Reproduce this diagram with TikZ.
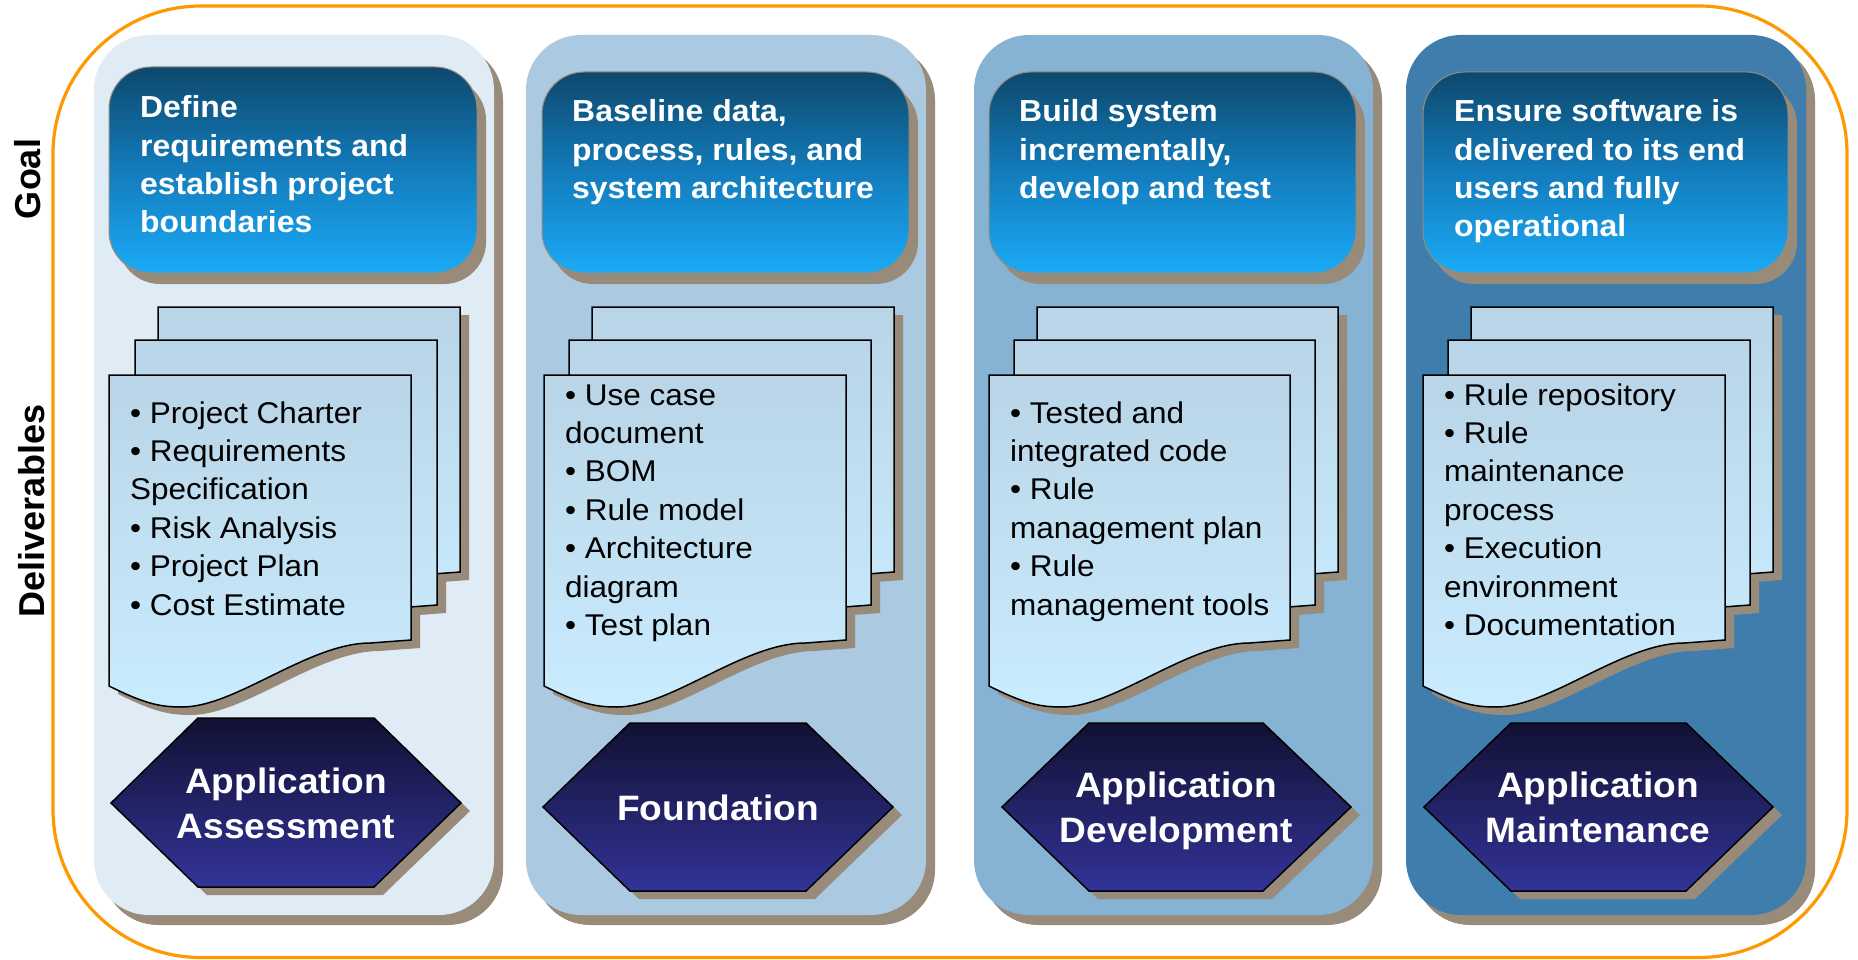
\documentclass[tikz,border=0pt]{standalone}
\usepackage{fontspec}
\setmainfont{Liberation Sans}
\newfontfamily\plainfont{Liberation Sans}
\newfontfamily\widefont[FakeStretch=1.05]{Liberation Sans}

\definecolor{framec}{RGB}{255,153,0}
\definecolor{shadowc}{RGB}{153,139,122}
\definecolor{panelA}{RGB}{224,236,245}
\definecolor{panelB}{RGB}{171,201,225}
\definecolor{panelC}{RGB}{134,178,212}
\definecolor{panelD}{RGB}{63,125,173}
\definecolor{goalTop}{RGB}{13,72,108}
\definecolor{goalMid}{RGB}{19,124,188}
\definecolor{goalBot}{RGB}{27,170,246}
\definecolor{docTop}{RGB}{185,213,231}
\definecolor{docBot}{RGB}{201,236,254}
\definecolor{hexTop}{RGB}{17,17,51}
\definecolor{hexBot}{RGB}{51,51,153}

% one sheet with a wavy lower edge: left, top, width
\newcommand\docpath[3]{(#1,#2) -- ({#1+#3},#2) -- ({#1+#3},{#2+265})
  -- ({#1+0.866*#3},{#2+268})
  .. controls ({#1+0.66*#3},{#2+268}) and ({#1+0.42*#3},{#2+332}) .. ({#1+0.242*#3},{#2+332})
  .. controls ({#1+0.17*#3},{#2+332}) and ({#1+0.12*#3},{#2+329}) .. (#1,{#2+311}) -- cycle}

% stack of three sheets: back left, middle left, front left, width
\newcommand\docstack[4]{%
  \fill[shadowc, shift={(9,8)}] \docpath{#1}{307}{#4};
  \fill[shadowc, shift={(9,8)}] \docpath{#2}{340}{#4};
  \fill[shadowc, shift={(9,8)}] \docpath{#3}{375}{#4};
  \shadedraw[sheet] \docpath{#1}{307}{#4};
  \shadedraw[sheet] \docpath{#2}{340}{#4};
  \shadedraw[sheet] \docpath{#3}{375}{#4};
}

\tikzset{
  panelbox/.style={rounded corners=55pt},
  goalbox/.style={rounded corners=42pt, top color=goalTop, bottom color=goalBot,
    middle color=goalMid, draw=shadowc, line width=1pt},
  sheet/.style={top color=docTop, bottom color=docBot, draw=black, line width=1.5pt},
  hexbox/.style={top color=hexTop, bottom color=hexBot, draw=black, line width=1.5pt},
  goaltext/.style={anchor=base west, inner sep=0pt, text=white,
    font=\widefont\bfseries\fontsize{30.4pt}{36pt}\selectfont},
  itemtext/.style={anchor=base west, inner sep=0pt, text=black,
    font=\widefont\fontsize{30pt}{36pt}\selectfont},
  phasetext/.style={anchor=base, inner sep=0pt, text=white,
    font=\widefont\bfseries\fontsize{35.3pt}{42pt}\selectfont},
  sidelabel/.style={anchor=base, inner sep=0pt, rotate=90, text=black,
    font=\plainfont\bfseries\fontsize{36pt}{42pt}\selectfont}
}

\begin{document}
\begin{tikzpicture}[x=1pt, y=-1pt]
\useasboundingbox (0,0) rectangle (1858,960);
\fill[white] (0,0) rectangle (1858,960);

% outer frame
\draw[framec, line width=3.2pt, rounded corners=148pt] (53,6) rectangle (1847,957.5);

% row labels
\node[sidelabel] (goallabel) at (40,179) {Goal};
\node[sidelabel] (deliverlabel) at (44,511) {Deliverables};

% phase panels
\foreach \l/\r/\c in {94/494/panelA, 526/926/panelB, 974/1373/panelC, 1406/1806/panelD} {
  \fill[shadowc, panelbox] (\l+9,45) rectangle (\r+9,925);
  \fill[\c, panelbox] (\l,35) rectangle (\r,915);
}

% goal boxes
\foreach \l/\t/\r in {109/67/477, 542/72/909, 989/72/1356, 1423/72/1788} {
  \fill[shadowc, rounded corners=42pt] (\l+9,\t+11) rectangle (\r+9,284);
  \path[goalbox] (\l,\t) rectangle (\r,273);
}

\foreach \ln [count=\i] in {Define, requirements and, establish project, boundaries}
  \node[goaltext] (goalA-\i) at (140,{118+(\i-1)*38.2}) {\ln};
\foreach \ln [count=\i] in {{Baseline data,}, {process, rules, and}, system architecture}
  \node[goaltext] (goalB-\i) at (572,{122+(\i-1)*38.2}) {\ln};
\foreach \ln [count=\i] in {Build system, {incrementally,}, develop and test}
  \node[goaltext] (goalC-\i) at (1019,{122+(\i-1)*38.2}) {\ln};
\foreach \ln [count=\i] in {Ensure software is, delivered to its end, users and fully, operational}
  \node[goaltext] (goalD-\i) at (1454,{122+(\i-1)*38.2}) {\ln};

% deliverable sheets
\docstack{158}{135}{109}{302}
\docstack{592}{569}{544}{302}
\docstack{1037}{1014}{989}{301}
\docstack{1471}{1448}{1423}{302}

\foreach \ln [count=\i] in {• Project Charter, • Requirements, Specification, • Risk Analysis, • Project Plan, • Cost Estimate}
  \node[itemtext] (itemA-\i) at (130,{423+(\i-1)*38.4}) {\ln};
\foreach \ln [count=\i] in {• Use case, document, • BOM, • Rule model, • Architecture, diagram, • Test plan}
  \node[itemtext] (itemB-\i) at (565,{405+(\i-1)*38.4}) {\ln};
\foreach \ln [count=\i] in {• Tested and, integrated code, • Rule, management plan, • Rule, management tools}
  \node[itemtext] (itemC-\i) at (1010,{423+(\i-1)*38.4}) {\ln};
\foreach \ln [count=\i] in {• Rule repository, • Rule, maintenance, process, • Execution, environment, • Documentation}
  \node[itemtext] (itemD-\i) at (1444,{405+(\i-1)*38.4}) {\ln};

% phase hexagons
\foreach \a/\b/\c/\d/\m/\t/\u in {111/198/374/461/803/718/887, 543/630/806/893/807/723/891,
    1002/1089/1263/1351/807/723/891, 1424/1511/1686/1773/807/723/891} {
  \fill[shadowc, shift={(9,8)}] (\a,\m) -- (\b,\t) -- (\c,\t) -- (\d,\m) -- (\c,\u) -- (\b,\u) -- cycle;
  \shadedraw[hexbox] (\a,\m) -- (\b,\t) -- (\c,\t) -- (\d,\m) -- (\c,\u) -- (\b,\u) -- cycle;
}

\node[phasetext] (phaseA-1) at (286,793) {Application};
\node[phasetext] (phaseA-2) at (286,838) {Assessment};
\node[phasetext] (phaseB-1) at (718,820) {Foundation};
\node[phasetext] (phaseC-1) at (1176,797) {Application};
\node[phasetext] (phaseC-2) at (1176,842) {Development};
\node[phasetext] (phaseD-1) at (1598,797) {Application};
\node[phasetext] (phaseD-2) at (1598,842) {Maintenance};
\end{tikzpicture}
\end{document}
